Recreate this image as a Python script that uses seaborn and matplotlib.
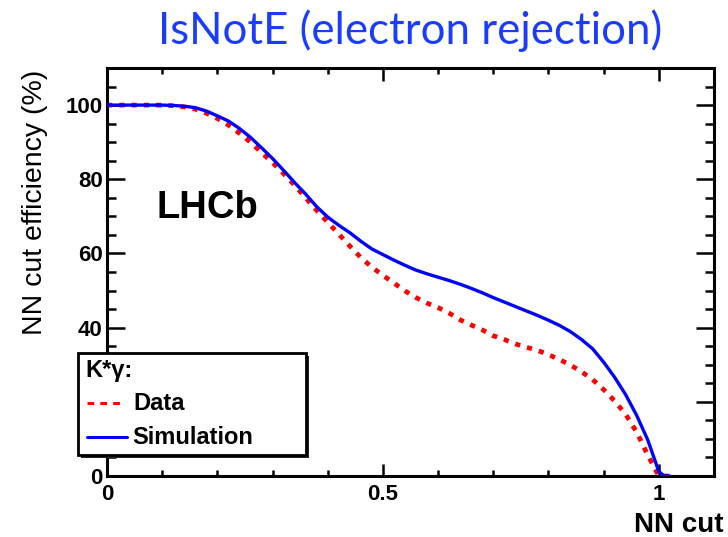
import numpy as np
import pandas as pd
import matplotlib
matplotlib.use("Agg")
import matplotlib.pyplot as plt
from matplotlib.patches import Rectangle
from matplotlib.lines import Line2D
from matplotlib.ticker import MultipleLocator
import seaborn as sns

# ---- data ----
nn_cut = [0.00, 0.02, 0.04, 0.06, 0.08, 0.10, 0.12, 0.14, 0.16, 0.18,
          0.20, 0.22, 0.24, 0.26, 0.28, 0.30, 0.32, 0.34, 0.36, 0.38,
          0.40, 0.42, 0.44, 0.46, 0.48, 0.50, 0.52, 0.54, 0.56, 0.58,
          0.60, 0.62, 0.64, 0.66, 0.68, 0.70, 0.72, 0.74, 0.76, 0.78,
          0.80, 0.82, 0.84, 0.86, 0.88, 0.90, 0.92, 0.94, 0.96, 0.98,
          1.00, 1.01, 1.02]
sim_eff = [100.0, 100.0, 100.0, 100.0, 100.0, 100.0, 99.9, 99.7, 99.3, 98.4,
           97.1, 95.7, 93.7, 91.3, 88.5, 85.6, 82.4, 79.1, 76.0, 72.6,
           69.8, 67.6, 65.6, 63.3, 61.2, 59.7, 58.2, 56.8, 55.5, 54.5,
           53.6, 52.7, 51.7, 50.6, 49.4, 48.1, 46.9, 45.7, 44.5, 43.3,
           42.0, 40.6, 38.9, 36.8, 34.3, 30.7, 26.6, 21.9, 16.3, 9.7,
           1.2, 0.0, 0.0]
data_eff = [100.0, 100.0, 100.0, 100.0, 100.0, 100.0, 99.8, 99.5, 98.9, 97.8,
            96.4, 94.6, 92.4, 90.0, 87.2, 84.5, 81.5, 78.4, 75.0, 71.6,
            68.4, 65.2, 62.0, 58.9, 56.3, 54.1, 52.0, 49.9, 48.1, 46.6,
            45.4, 43.9, 42.1, 40.7, 39.4, 37.8, 36.8, 35.6, 34.7, 33.9,
            32.7, 31.4, 29.9, 28.1, 26.0, 23.3, 20.2, 16.6, 11.8, 5.6,
            0.0, 0.0, 0.0]

title = "IsNotE (electron rejection)"
xlabel = "NN cut"
ylabel = "NN cut efficiency (%)"
legend_header = "K*\u03b3:"
series_names = ["Data", "Simulation"]
x_ticks = [0, 0.5, 1]
x_ticklabels = ["0", "0.5", "1"]
y_ticks = [0, 20, 40, 60, 80, 100]
y_ticklabels = ["0", "20", "40", "60", "80", "100"]

df = pd.DataFrame({"nn": nn_cut * 2,
                   "eff": data_eff + sim_eff,
                   "series": [series_names[0]] * len(nn_cut) + [series_names[1]] * len(nn_cut)})

sns.set_style("ticks")
plt.rcParams["font.family"] = ["Liberation Sans", "DejaVu Sans"]
plt.rcParams["text.color"] = "black"
plt.rcParams["axes.labelcolor"] = "black"
plt.rcParams["xtick.color"] = "black"
plt.rcParams["ytick.color"] = "black"

W, H = 728, 537
fig = plt.figure(figsize=(W / 100, H / 100), dpi=100)
ax = fig.add_axes([107 / W, 1 - 476 / H, (714 - 107) / W, (476 - 68) / H])

red = "#ff0000"
blue = "#0000ff"
sns.lineplot(data=df[df.series == "Simulation"], x="nn", y="eff", ax=ax,
             color=blue, linewidth=2.4, legend=False, zorder=3)
sns.lineplot(data=df[df.series == "Data"], x="nn", y="eff", ax=ax,
             color=red, linewidth=3.4, legend=False, zorder=2)
ax.lines[-1].set_dashes((1.1, 1.5))

ax.set_xlim(0, 1.1)
ax.set_ylim(0, 110)
ax.set_xticks(x_ticks)
ax.set_xticklabels(x_ticklabels)
ax.set_yticks(y_ticks)
ax.set_yticklabels(y_ticklabels)
ax.xaxis.set_minor_locator(MultipleLocator(0.1))
ax.yaxis.set_minor_locator(MultipleLocator(5))
ax.tick_params(axis="both", which="both", direction="in", top=True, right=True,
               width=1.8, color="black", labelcolor="black")
ax.tick_params(axis="y", which="major", length=13, labelsize=16, pad=3)
ax.tick_params(axis="y", which="minor", length=6.5)
ax.tick_params(axis="x", which="major", length=9, labelsize=16, pad=6)
ax.tick_params(axis="x", which="minor", length=4.5)
for lab in ax.get_xticklabels() + ax.get_yticklabels():
    lab.set_fontweight("bold")
for sp in ax.spines.values():
    sp.set_linewidth(2.2)
    sp.set_color("black")

ax.set_xlabel("")
ax.set_ylabel("")
fig.text(723 / W, 1 - 525 / H, xlabel, ha="right", va="center",
         fontsize=20, fontweight="bold", color="black")
fig.text(35 / W, 1 - 202 / H, ylabel, ha="center", va="center",
         rotation=90, fontsize=20.5, color="black")
fig.text(410 / W, 1 - 31 / H, title, ha="center", va="center",
         fontsize=31.5, color="#1a3cff", family=["Lato", "DejaVu Sans"])

ax.text(0.09, 72.3, "LHCb", ha="left", va="center", fontsize=27.5,
        fontweight="bold", color="black")

# ---- legend box (ROOT style, with shadow) ----
bx0, by0, bx1, by1 = 78, 353, 306, 455
fig.patches.append(Rectangle(((bx0 + 3) / W, 1 - (by1 + 3) / H), (bx1 - bx0) / W, (by1 - by0) / H,
                             transform=fig.transFigure, facecolor="#222222",
                             edgecolor="none", zorder=5))
fig.patches.append(Rectangle((bx0 / W, 1 - by1 / H), (bx1 - bx0) / W, (by1 - by0) / H,
                             transform=fig.transFigure, facecolor="white",
                             edgecolor="black", linewidth=2.0, zorder=6))
fig.text(85 / W, 1 - 370 / H, legend_header, ha="left", va="center",
         fontsize=17, fontweight="bold", zorder=7, color="black")
l1 = Line2D([87 / W, 125 / W], [1 - 403 / H, 1 - 403 / H], transform=fig.transFigure,
            color=red, linewidth=2.2, zorder=7)
l1.set_dashes((2.2, 2.0))
fig.lines.append(l1)
fig.lines.append(Line2D([87 / W, 127 / W], [1 - 437 / H, 1 - 437 / H], transform=fig.transFigure,
                        color=blue, linewidth=2.2, zorder=7))
fig.text(133 / W, 1 - 404 / H, series_names[0], ha="left", va="center",
         fontsize=17, fontweight="bold", zorder=7, color="black")
fig.text(132 / W, 1 - 437 / H, series_names[1], ha="left", va="center",
         fontsize=17, fontweight="bold", zorder=7, color="black")

fig.savefig("out.png", dpi=100)
